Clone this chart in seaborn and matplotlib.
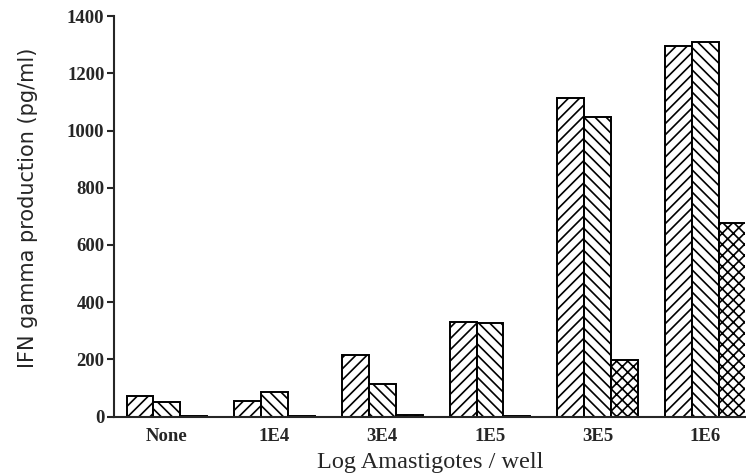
import pandas as pd
import numpy as np
import matplotlib
matplotlib.use('Agg')
import matplotlib.pyplot as plt
import seaborn as sns

# data
doses = ['None', '1E4', '3E4', '1E5', '3E5', '1E6']
series = ['A', 'B', 'C']
vals_a = [72, 53, 214, 332, 1115, 1296]
vals_b = [51, 86, 114, 328, 1047, 1308]
vals_c = [4, 3, 6, 3, 198, 678]

df = pd.DataFrame({
    'dose': doses * 3,
    'group': [s for s in series for _ in doses],
    'ifn': vals_a + vals_b + vals_c,
})

sns.set_style('ticks')
plt.rcParams['hatch.linewidth'] = 1.2

fig = plt.figure(figsize=(7.46, 4.74), dpi=100)
ax = fig.add_axes([0.153, 0.121, 0.846, 0.845])

sns.barplot(data=df, x='dose', y='ifn', hue='group', order=doses,
            palette=['white'] * 3, edgecolor='black', linewidth=1.4,
            width=0.75, saturation=1, legend=False, ax=ax)

hatches = ['///', '\\\\\\', 'xxx']
for cont, h in zip(ax.containers, hatches):
    for bar in cont:
        bar.set_hatch(h)

ax.set_ylim(0, 1400)
ax.set_xlim(-0.49, 5.37)
ax.set_yticks(range(0, 1401, 200))
sns.despine(ax=ax)
for s in ['left', 'bottom']:
    ax.spines[s].set_linewidth(1.5)
ax.tick_params(axis='y', length=5, width=1.5, direction='out', pad=2)
ax.tick_params(axis='x', length=0, pad=8)

for lab in ax.get_yticklabels() + ax.get_xticklabels():
    lab.set_family('Liberation Serif')
    lab.set_weight('bold')
    lab.set_fontsize(13.5)

ax.set_xlabel('Log Amastigotes / well', family='Liberation Serif',
              fontsize=17.5, labelpad=5)
ax.set_ylabel('IFN gamma production (pg/ml)', family='DejaVu Sans',
              fontsize=15)
ax.yaxis.set_label_coords(-0.12, 0.522)

fig.savefig('out.png', dpi=100)
